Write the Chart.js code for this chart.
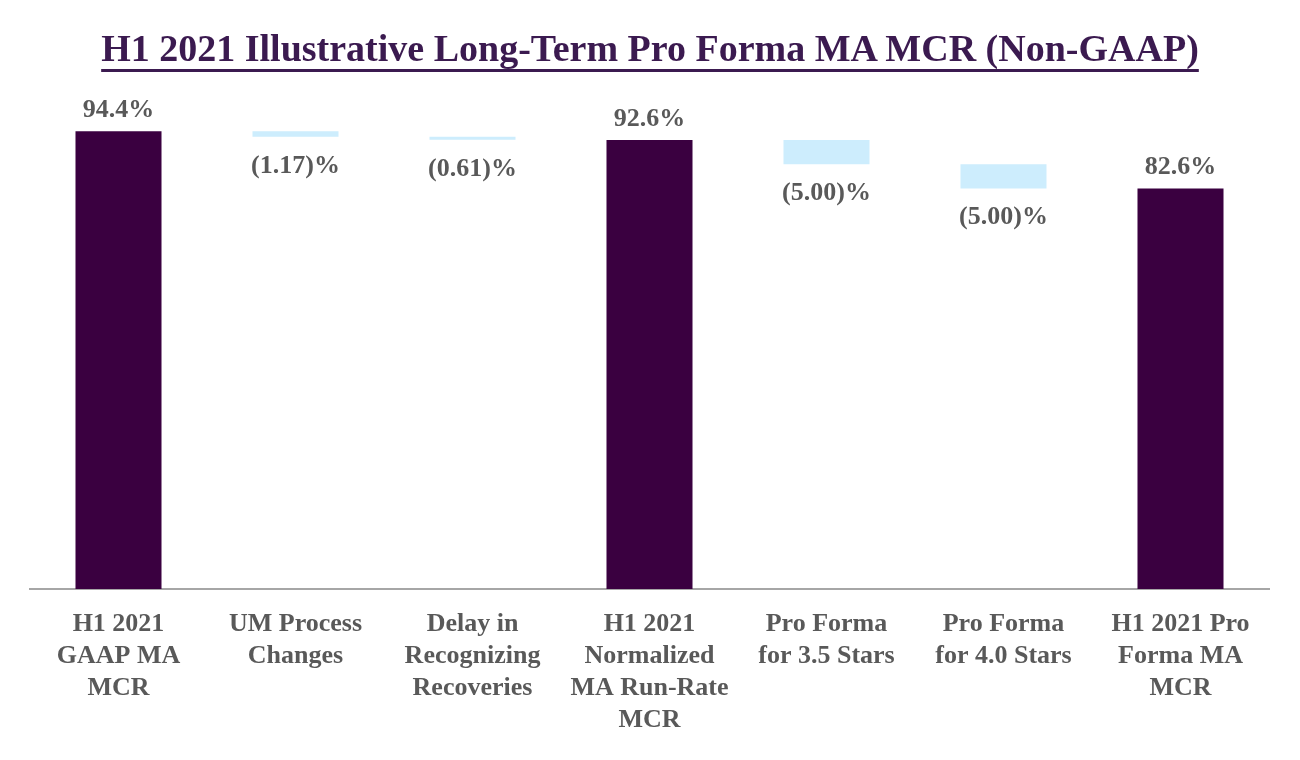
<!DOCTYPE html>
<html>
<head>
<meta charset="utf-8">
<script src="https://cdn.jsdelivr.net/npm/chart.js@4"></script>
<style>
  html, body { margin: 0; padding: 0; background: #fff; }
  #wrap { position: relative; width: 1300px; height: 760px; }
  #title {
    position: absolute; left: 0; top: 26px; width: 1300px;
    text-align: center; font-family: "Liberation Serif", serif;
    font-weight: bold; font-size: 38px; color: #3b1a50;
    line-height: 44px;
  }
  #title span { text-decoration: underline; text-decoration-thickness: 3px; text-underline-offset: 8px; }
  canvas { position: absolute; left: 0; top: 0; }
</style>
</head>
<body>
<div id="wrap">
  <canvas id="chart" width="1300" height="760"></canvas>
  <div id="title"><span>H1 2021 Illustrative Long-Term Pro Forma MA MCR (Non-GAAP)</span></div>
</div>
<script>
const categories = [
  ["H1 2021", "GAAP MA", "MCR"],
  ["UM Process", "Changes"],
  ["Delay in", "Recognizing", "Recoveries"],
  ["H1 2021", "Normalized", "MA Run-Rate", "MCR"],
  ["Pro Forma", "for 3.5 Stars"],
  ["Pro Forma", "for 4.0 Stars"],
  ["H1 2021 Pro", "Forma MA", "MCR"]
];
const stepValues = [94.4, -1.17, -0.61, 92.6, -5.00, -5.00, 82.6];
const isTotal = [true, false, false, true, false, false, true];

const totalColor = "#3a0040";
const changeColor = "#cdedfd";
const labelColor = "#595959";

// build floating ranges for the waterfall
let running = 0;
const ranges = stepValues.map((v, i) => {
  if (isTotal[i]) {
    running = v;
    return [0, v];
  }
  const start = running;
  running = running + v;
  return [running, start];
});

const labelPlugin = {
  id: "barLabels",
  afterDatasetsDraw(chart) {
    const ctx = chart.ctx;
    const meta = chart.getDatasetMeta(0);
    ctx.save();
    ctx.font = "bold 26px 'Liberation Serif'";
    ctx.fillStyle = labelColor;
    ctx.textAlign = "center";
    ctx.textBaseline = "middle";
    meta.data.forEach((bar, i) => {
      const v = stepValues[i];
      if (isTotal[i]) {
        ctx.fillText(v.toFixed(1) + "%", bar.x, bar.y - 21);
      } else {
        ctx.fillText("(" + Math.abs(v).toFixed(2) + ")%", bar.x, bar.base + 29);
      }
    });
    ctx.restore();
  }
};

new Chart(document.getElementById("chart"), {
  type: "bar",
  data: {
    labels: categories,
    datasets: [{
      data: ranges,
      backgroundColor: isTotal.map(t => t ? totalColor : changeColor),
      borderWidth: 0,
      borderSkipped: false,
      categoryPercentage: 1,
      barPercentage: 0.486
    }]
  },
  options: {
    responsive: false,
    animation: false,
    layout: { padding: { top: 104, left: 30, right: 31, bottom: 0 } },
    plugins: {
      legend: { display: false },
      tooltip: { enabled: false }
    },
    scales: {
      x: {
        grid: { display: false },
        border: { display: true, color: "#a6a6a6", width: 2 },
        ticks: {
          color: labelColor,
          font: { family: "'Liberation Serif'", weight: "bold", size: 26, lineHeight: 1.23 },
          padding: 11,
          maxRotation: 0,
          autoSkip: false
        },
        afterFit(scale) { scale.height = 171; }
      },
      y: {
        display: false,
        min: 0,
        max: 100
      }
    }
  },
  plugins: [labelPlugin]
});
</script>
</body>
</html>
